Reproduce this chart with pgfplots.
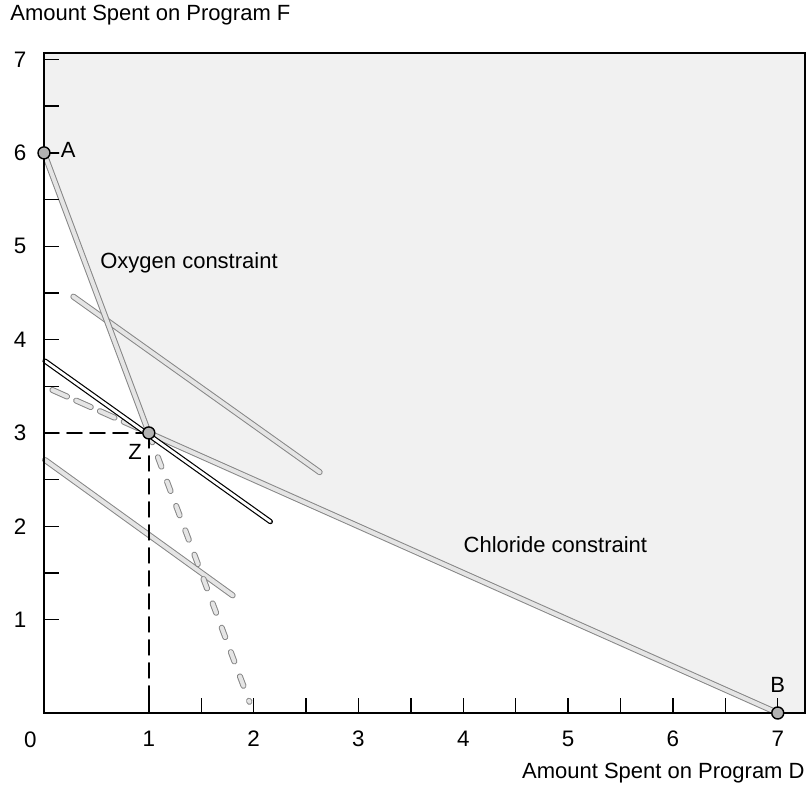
\documentclass[border=0pt]{standalone}
\usepackage{fontspec}
\setmainfont{Liberation Sans}
\usepackage{pgfplots}
\pgfplotsset{compat=1.18}
\begin{document}
\fontsize{11}{13}\selectfont
\begin{tikzpicture}
\begin{axis}[
  scale only axis,
  width=380.5pt, height=330pt,
  xmin=0, xmax=7.26, ymin=0, ymax=7.07,
  axis on top,
  clip=false,
  xtick={1,...,7}, ytick={1,...,7},
  minor x tick num=1, minor y tick num=1,
  xtick pos=bottom, ytick pos=left,
  tick align=inside,
  major tick length=7.5pt, minor tick length=7.5pt,
  tick style={black, line width=0.7pt},
  axis line style={line width=0.8pt},
  /pgf/number format/assume math mode=true,
  ticklabel style={font=\fontsize{11.2}{13}\selectfont},
  yticklabel style={xshift=-5pt},
  xticklabel style={yshift=-5pt},
  every axis plot/.append style={line cap=round},
]
% feasible (shaded) region
\addplot[draw=none, fill=gray!11] coordinates {(0,7.07) (0,6) (1,3) (7,0) (7.26,0) (7.26,7.07)} -- cycle;
% isocost lines
\addplot[draw=gray!95, double=gray!20, double distance=2pt, line width=0.5pt] coordinates {(0.28,4.46) (2.63,2.58)};
\addplot[draw=gray!95, double=gray!20, double distance=2pt, line width=0.5pt] coordinates {(0.01,2.71) (1.80,1.26)};
% oxygen constraint
\addplot[draw=gray!95, double=gray!20, double distance=2pt, line width=0.5pt] coordinates {(0,6) (1,3)};
\addplot[draw=gray!95, double=gray!20, double distance=2pt, line width=0.5pt, dash pattern=on 5pt off 8pt] coordinates {(1,3) (1.96,0.12)};
% chloride constraint
\addplot[draw=gray!95, double=gray!20, double distance=2pt, line width=0.5pt] coordinates {(1,3) (7,0)};
\addplot[draw=gray!95, double=gray!20, double distance=2pt, line width=0.5pt, dash pattern=on 8pt off 5pt] coordinates {(0.08,3.46) (1,3)};
% optimal isocost line
\addplot[draw=black, double=white, double distance=1.4pt, line width=0.6pt] coordinates {(0.01,3.77) (2.16,2.05)};
% guide lines to Z
\addplot[black, line width=0.8pt, dash pattern=on 7.5pt off 4pt] coordinates {(0,3) (1,3)};
\addplot[black, line width=0.8pt, dash pattern=on 7.5pt off 4pt] coordinates {(1,3) (1,0)};
% A leader
\addplot[black, line width=0.8pt] coordinates {(0.05,6) (0.14,6)};
% points
\addplot[only marks, mark=*, mark size=3pt, mark options={draw=black, fill=gray!60, line width=0.7pt}] coordinates {(0,6) (1,3) (7,0)};
% labels
\node[anchor=center] at (axis cs:0.23,6.03) {A};
\node[anchor=center] at (axis cs:0.87,2.80) {Z};
\node[anchor=center] at (axis cs:7.0,0.30) {B};
\node[anchor=west, inner sep=0pt] at (axis cs:0.534,4.82) {Oxygen constraint};
\node[anchor=west, inner sep=0pt] at (axis cs:4.0,1.80) {Chloride constraint};
\node[anchor=center, font=\fontsize{11.2}{13}\selectfont] at (axis cs:-0.13,0) [yshift=-13.5pt] {0};
\node[anchor=west, inner sep=0pt] at (rel axis cs:0,1) [xshift=-17pt, yshift=19pt] {Amount Spent on Program F};
\node[anchor=east, inner sep=0pt] at (rel axis cs:1,0) [yshift=-30pt] {Amount Spent on Program D};
\coordinate (bl) at (rel axis cs:0,0);
\end{axis}
\pgfresetboundingbox
\path[use as bounding box] ([shift={(-22pt,-37.5pt)}]bl) rectangle ([shift={(383.5pt,356.5pt)}]bl);
\end{tikzpicture}
\end{document}
